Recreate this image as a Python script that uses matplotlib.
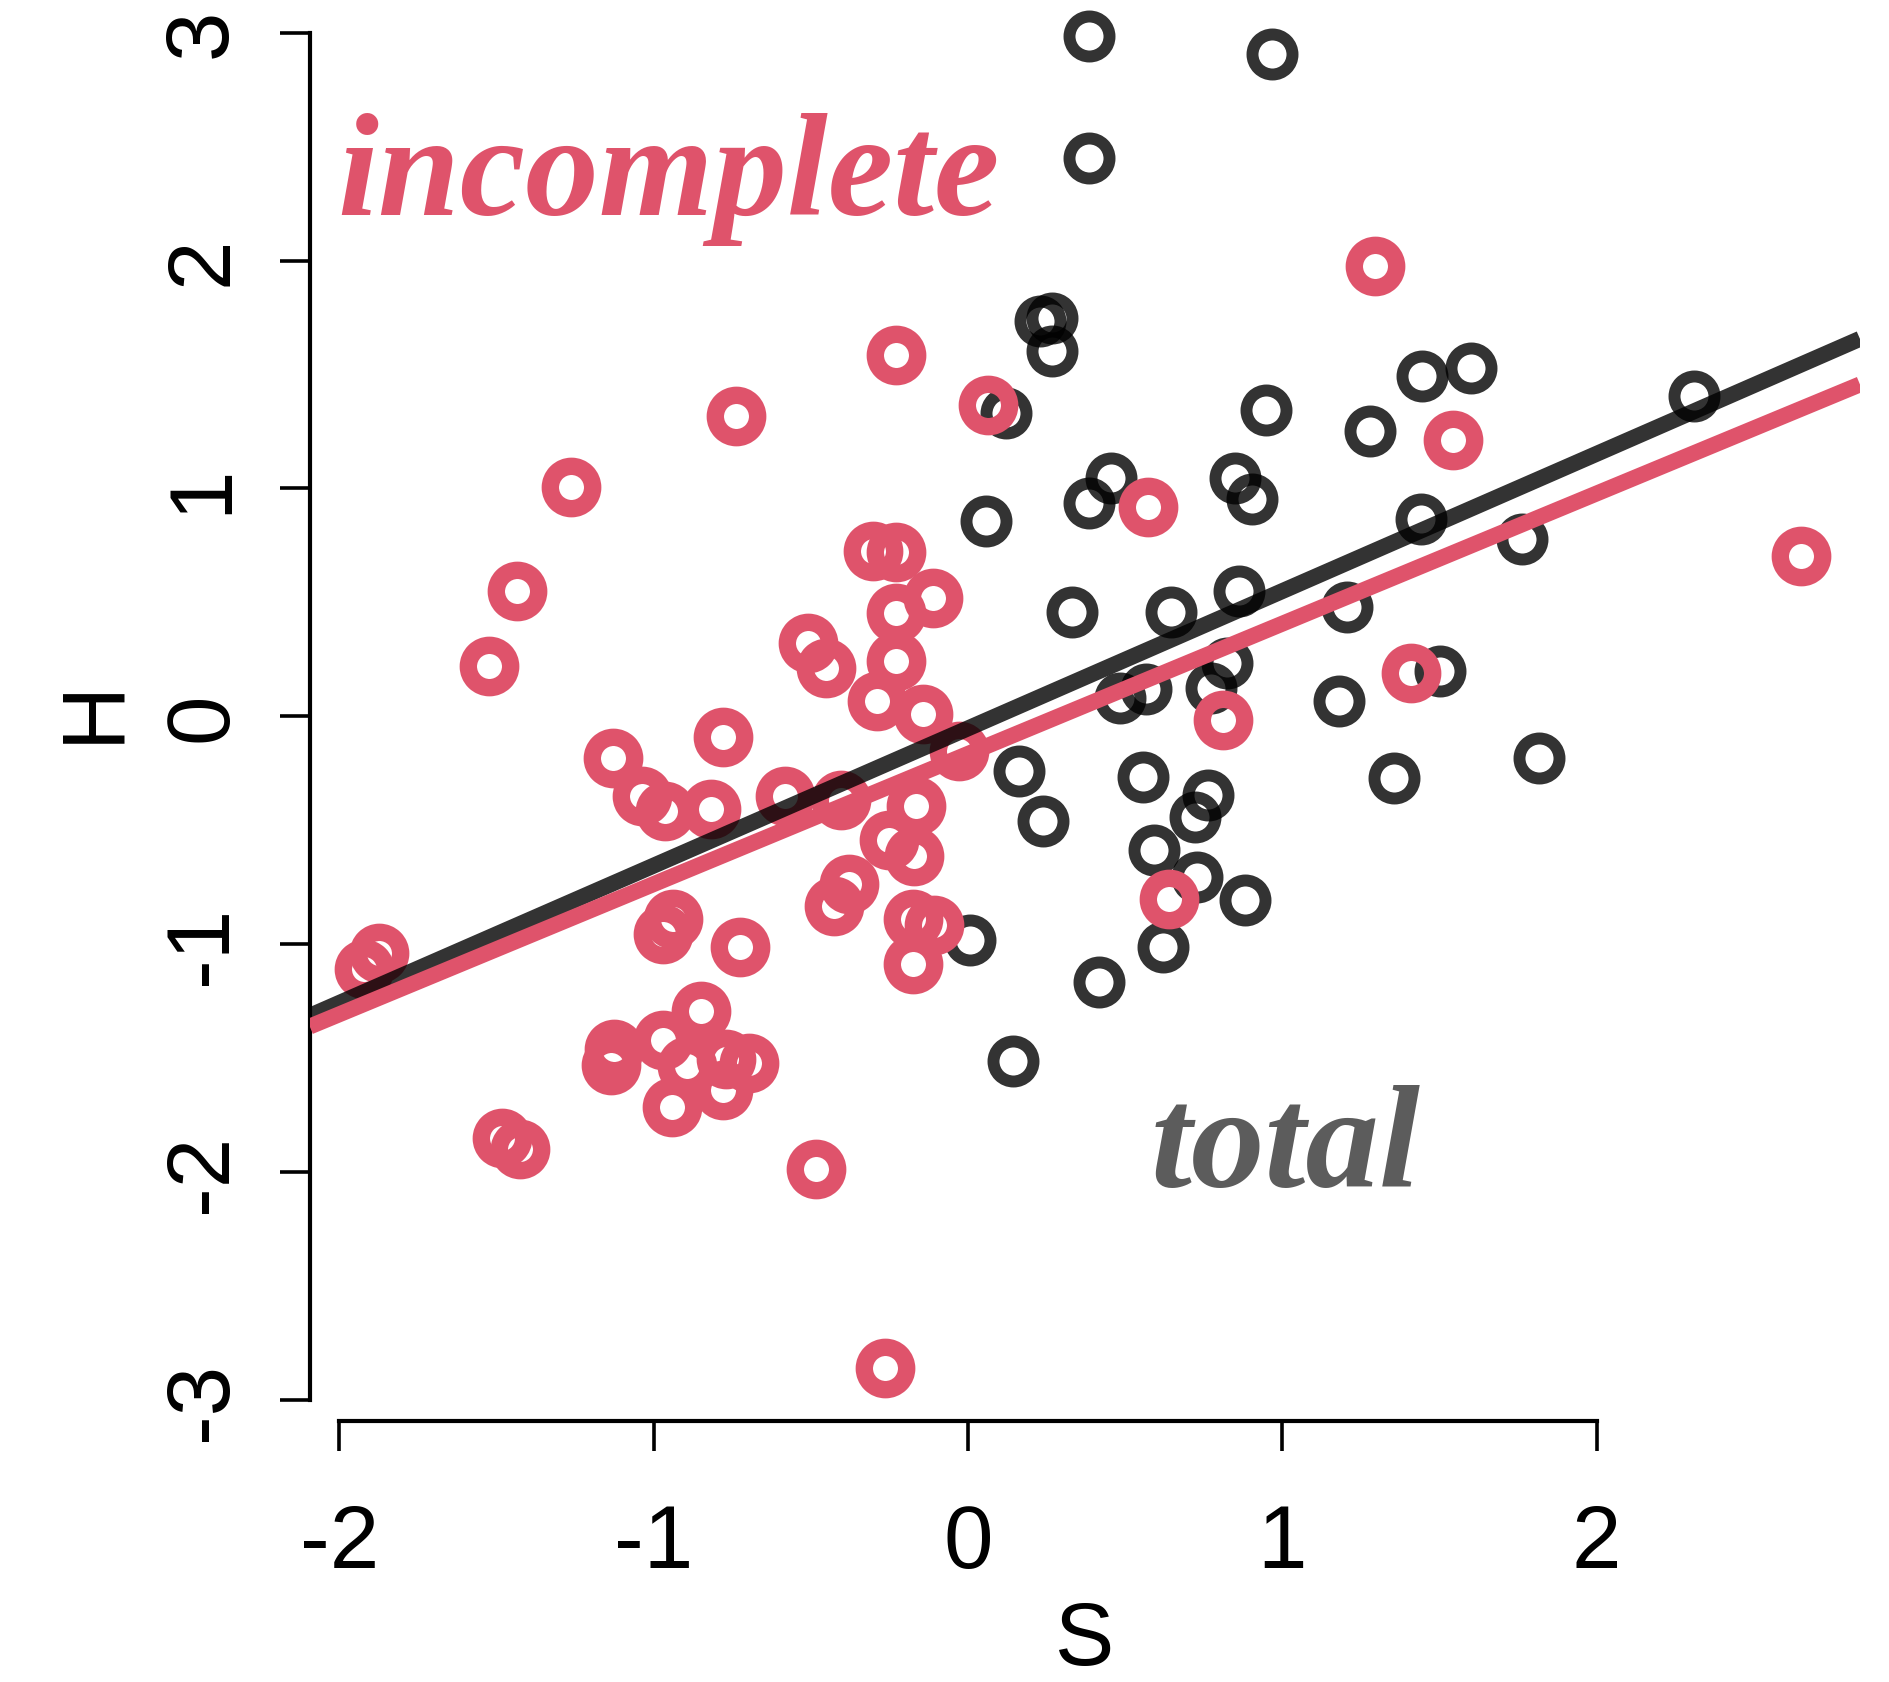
import matplotlib
matplotlib.use("Agg")
import matplotlib.pyplot as plt
from matplotlib.ticker import FixedLocator, FixedFormatter

# ---- data ----
total_S = [0.385, 0.968, 0.385, 0.228, 0.267, 0.267, 0.121, 0.949, 1.279, 1.444,
           1.601, 2.311, 0.454, 0.385, 0.849, 0.903, 0.056, 1.440, 1.762, 0.332,
           0.646, 0.861, 1.206, 0.823, 0.773, 0.566, 0.485, 1.501, 1.179, 0.163,
           0.558, 0.765, 0.723, 0.240, 0.593, 0.727, 0.880, 1.356, 1.816, 0.006,
           0.619, 0.416, 0.144]
total_H = [2.984, 2.905, 2.450, 1.735, 1.746, 1.603, 1.333, 1.344, 1.254, 1.492,
           1.529, 1.407, 1.048, 0.937, 1.048, 0.952, 0.857, 0.868, 0.778, 0.460,
           0.460, 0.550, 0.481, 0.233, 0.127, 0.122, 0.079, 0.201, 0.069, -0.238,
           -0.265, -0.344, -0.439, -0.460, -0.587, -0.704, -0.804, -0.270, -0.180, -0.979,
           -1.011, -1.164, -1.513]

inc_S = [-0.228, -0.738, 0.063, -1.264, 1.294, 1.544, 0.573, 2.652, -1.436, -1.524,
         -0.301, -0.228, -0.113, -0.228, -0.508, -0.451, -0.228, -0.290, -0.144, -0.029,
         -0.780, -1.129, -1.037, -0.965, -0.819, -0.581, -0.405, -0.167, -0.251, -0.171,
         -0.378, -0.428, -0.938, -0.972, -0.727, -0.174, -0.109, -0.174, -1.873, -1.923,
         -0.849, -1.126, -1.137, -0.972, -0.895, -0.769, -0.696, -0.780, -0.942, -1.482,
         -1.425, -0.485, -0.263, 0.811, 1.409, 0.639]
inc_H = [1.587, 1.317, 1.365, 1.005, 1.974, 1.212, 0.921, 0.704, 0.550, 0.222,
         0.725, 0.720, 0.519, 0.455, 0.323, 0.212, 0.243, 0.069, 0.011, -0.153,
         -0.090, -0.180, -0.349, -0.413, -0.407, -0.349, -0.365, -0.392, -0.540, -0.614,
         -0.735, -0.831, -0.889, -0.952, -1.011, -0.889, -0.915, -1.085, -1.037, -1.106,
         -1.291, -1.460, -1.529, -1.418, -1.534, -1.503, -1.519, -1.640, -1.714, -1.847,
         -1.899, -1.984, -2.857, -0.016, 0.190, -0.799]

# regression lines (intercept, slope)
total_fit = (-0.052, 0.602)
inc_fit = (-0.164, 0.571)

x_ticks = [-2, -1, 0, 1, 2]
x_ticklabels = ["-2", "-1", "0", "1", "2"]
y_ticks = [-3, -2, -1, 0, 1, 2, 3]
y_ticklabels = ["-3", "-2", "-1", "0", "1", "2", "3"]

PINK = "#DF536B"
BLACK_A = (0, 0, 0, 0.8)

fig = plt.figure(figsize=(18.9, 16.83), dpi=100)
ax = fig.add_axes([0.1639, 0.1551, 0.8202, 0.8449])
ax.set_xlim(-2.0945, 2.838)
ax.set_ylim(-3.09, 3.147)

ax.plot(total_S, total_H, linestyle="none", marker="o", mfc="none",
        mec=BLACK_A, ms=28.8, mew=8.6, clip_on=False, zorder=2)
ax.plot(inc_S, inc_H, linestyle="none", marker="o", mfc="none",
        mec=PINK, ms=30.5, mew=12.5, clip_on=False, zorder=3)

ax.axline((0, total_fit[0]), slope=total_fit[1], color=BLACK_A, lw=11.5,
          solid_capstyle="butt", zorder=4)
ax.axline((0, inc_fit[0]), slope=inc_fit[1], color=PINK, lw=11.5,
          solid_capstyle="butt", zorder=5)

serif = ["Liberation Serif", "DejaVu Serif"]
ax.text(-2.006, 2.206, "incomplete", family=serif, style="italic", weight="bold",
        size=106, color=PINK, ha="left", va="baseline", zorder=6)
ax.text(0.582, -2.059, "total", family=serif, style="italic", weight="bold",
        size=106, color="#5c5c5c", ha="left", va="baseline", zorder=6)

# axes styling (R-like)
for s in ("top", "right"):
    ax.spines[s].set_visible(False)
ax.spines["left"].set_bounds(-3, 3)
ax.spines["bottom"].set_bounds(-2, 2)
for s in ("left", "bottom"):
    ax.spines[s].set_linewidth(3.0)

sans = ["Liberation Sans", "DejaVu Sans"]
ax.xaxis.set_major_locator(FixedLocator(x_ticks))
ax.xaxis.set_major_formatter(FixedFormatter(x_ticklabels))
ax.yaxis.set_major_locator(FixedLocator(y_ticks))
ax.yaxis.set_major_formatter(FixedFormatter(y_ticklabels))
ax.tick_params(axis="both", direction="out", length=21.6, width=2.6)
ax.tick_params(axis="x", pad=37)
ax.tick_params(axis="y", pad=25)
for lab in ax.get_xticklabels():
    lab.set_fontfamily(sans)
    lab.set_fontsize(64)
for lab in ax.get_yticklabels():
    lab.set_fontfamily(sans)
    lab.set_fontsize(64)
    lab.set_rotation(90)
    lab.set_va("center")

ax.set_xlabel("S", family=sans, fontsize=64)
ax.set_ylabel("H", family=sans, fontsize=64)
ax.xaxis.set_label_coords(0.5, -0.1250)
ax.yaxis.set_label_coords(-0.112, 0.5)

fig.savefig("out.png", dpi=100)
